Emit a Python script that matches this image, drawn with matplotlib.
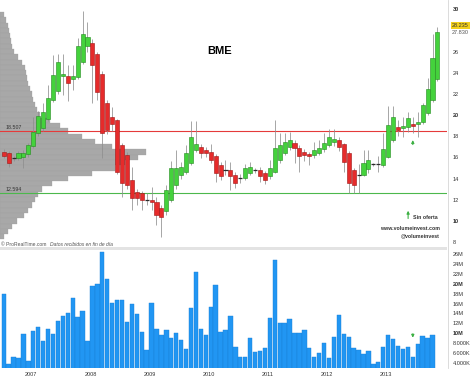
import numpy as np
import matplotlib.pyplot as plt

plt.rcParams['font.family'] = ['Liberation Sans', 'DejaVu Sans']

# -- monthly candles, July 2006 .. November 2013
opens = [16.5, 16.4, 15.95, 15.9, 16.0, 16.3, 17.1, 18.3, 18.8, 19.6,
         21.4, 22.3, 23.7, 23.7, 23.4, 23.6, 25.05, 26.5, 26.8, 25.8,
         23.9, 21.1, 19.8, 19.5, 17.2, 16.2, 13.9, 12.76, 12.6, 11.95,
         11.98, 11.8, 11.2, 10.9, 12.0, 13.4, 14.3, 14.65, 15.5, 16.7,
         17.0, 16.7, 16.54, 16.13, 15.3, 14.8, 14.8, 14.35, 14.0, 14.05,
         14.5, 14.8, 14.8, 14.5, 14.2, 14.65, 15.76, 16.4, 17.0, 17.33,
         16.9, 16.5, 16.3, 16.23, 16.45, 16.8, 17.2, 17.5, 17.6, 17.27,
         16.45, 14.8, 14.3, 14.34, 14.9, 15.35, 15.35, 15.28, 16.07, 17.65,
         18.9, 18.75, 18.9, 19.2, 19.16, 19.3, 20.2, 21.4, 23.4]
highs = [16.8, 16.6, 16.1, 16.6, 16.7, 17.4, 19.8, 20.4, 21.1, 22.8,
         25.7, 25.8, 25.8, 24.7, 24.7, 27.3, 29.8, 28.8, 27.2, 26.0,
         24.2, 21.4, 20.8, 19.6, 17.4, 16.5, 15.1, 13.0, 12.8, 12.6,
         13.2, 12.3, 11.5, 13.4, 15.7, 16.7, 15.6, 17.2, 19.4, 19.4,
         17.3, 17.0, 17.3, 16.3, 15.6, 15.8, 15.6, 14.6, 14.4, 15.4,
         15.6, 15.0, 15.1, 14.7, 15.76, 19.5, 18.3, 18.3, 18.4, 17.65,
         17.2, 16.8, 16.5, 17.5, 17.65, 18.3, 18.7, 18.7, 17.9, 17.4,
         16.6, 15.0, 15.4, 16.7, 16.7, 15.5, 16.1, 18.3, 20.86, 20.86,
         19.5, 19.8, 20.3, 19.8, 20.3, 21.1, 23.5, 27.7, 28.36]
lows = [15.9, 15.1, 15.7, 15.8, 15.0, 16.0, 16.9, 18.0, 18.5, 19.4,
        21.2, 22.0, 21.9, 21.3, 22.4, 23.4, 24.8, 26.0, 21.1, 21.4,
        15.9, 18.2, 18.5, 14.4, 12.3, 13.0, 11.0, 11.5, 11.0, 11.5,
        11.0, 9.6, 8.5, 10.6, 11.8, 13.0, 14.0, 14.4, 15.3, 16.5,
        15.9, 16.0, 15.5, 13.7, 13.9, 14.3, 12.9, 13.1, 13.6, 13.9,
        14.3, 14.5, 13.7, 13.5, 14.0, 14.5, 15.5, 16.2, 16.7, 15.44,
        14.65, 15.7, 15.3, 15.9, 16.2, 16.5, 17.0, 17.1, 16.6, 14.65,
        12.6, 12.6, 12.6, 14.2, 14.5, 15.2, 14.6, 15.1, 15.9, 17.5,
        18.0, 17.9, 18.4, 18.3, 17.95, 19.2, 20.0, 21.2, 23.2]
closes = [16.15, 15.5, 15.85, 16.4, 16.4, 17.2, 18.4, 19.9, 20.3, 21.6,
          23.8, 25.0, 23.9, 23.0, 23.7, 26.5, 27.7, 27.4, 24.7, 22.2,
          18.3, 18.6, 19.2, 14.6, 13.55, 13.4, 12.15, 12.14, 12.0, 12.05,
          11.82, 10.56, 10.4, 12.9, 15.0, 15.0, 15.1, 16.4, 17.96, 17.3,
          16.4, 16.4, 15.76, 14.5, 14.2, 14.85, 14.2, 13.55, 14.05, 14.97,
          15.1, 14.85, 14.2, 13.9, 14.97, 16.86, 17.17, 17.5, 17.65, 16.86,
          16.1, 16.2, 16.15, 16.7, 16.86, 17.4, 17.9, 17.7, 17.0, 15.6,
          13.55, 13.4, 14.34, 15.44, 15.8, 15.4, 15.4, 16.77, 19.06, 19.8,
          18.6, 18.97, 19.7, 19.0, 19.38, 21.0, 22.5, 25.4, 27.83]

# -- monthly volume in millions (panel stops at October 2013)
volume = [17.9, 3.7, 5.1, 4.9, 9.8, 4.4, 10.4, 11.2, 8.5, 10.8,
          9.8, 12.5, 13.4, 14.1, 17.2, 13.3, 14.5, 8.3, 19.6, 19.9,
          26.5, 20.9, 16.1, 16.7, 16.8, 12.2, 15.9, 13.9, 10.2, 6.5,
          16.1, 10.8, 9.6, 10.6, 9.1, 10.1, 8.7, 6.7, 15.0, 22.5,
          10.8, 9.6, 15.4, 19.8, 10.3, 10.6, 13.5, 7.1, 5.1, 5.1,
          9.1, 6.1, 6.3, 7.0, 13.1, 24.8, 12.0, 12.0, 12.9, 10.0,
          10.0, 10.7, 7.0, 5.2, 6.0, 7.9, 4.9, 9.2, 13.7, 9.8,
          9.2, 6.9, 6.6, 5.8, 6.4, 3.7, 4.1, 7.2, 9.7, 8.9,
          7.3, 6.8, 7.1, 5.2, 7.7, 9.4, 9.1, 9.7]

# -- volume by price profile on the left
profile_price = np.arange(29.5, 8.4, -0.5)
profile_vol = [4, 6, 8, 9, 10, 11, 12, 14, 18, 22, 25, 26, 27, 28, 30, 32, 33, 35,
               37, 40, 50, 60, 68, 82, 95, 112, 146, 138, 125, 115, 92, 68, 52, 42,
               38, 35, 32, 28, 24, 17, 12, 8, 4]

years = ['2007', '2008', '2009', '2010', '2011', '2012', '2013']
year_idx = [6, 18, 30, 42, 54, 66, 78]

resistance = 18.507
support = 12.594
last_price = 28.235
sin_oferta = 83

price_ticks = [8, 10, 12, 14, 16, 18, 20, 22, 24, 26, 30]
vol_ticks = [4, 6, 8, 10, 12, 14, 16, 18, 20, 22, 24, 26]
vol_labels = ['4.000K', '6.000K', '8.000K', '10M', '12M', '14M', '16M', '18M',
              '20M', '22M', '24M', '26M']

W, H = 474, 378


def rect(x0, y0, x1, y1):
    return [x0 / W, 1 - y1 / H, (x1 - x0) / W, (y1 - y0) / H]


fig = plt.figure(figsize=(W / 100, H / 100), dpi=100)
xlim = (-0.75, 89.94)
ylim = (7.53, 30.88)

# -- profile first, behind the candles
axp = fig.add_axes(rect(0, 0, 447, 247), label='profile')
axp.barh(profile_price, profile_vol, height=0.5, color='#a8a8a8', edgecolor='#a0a0a0', lw=0.2)
axp.set_xlim(0, 447)
axp.set_ylim(*ylim)
axp.axis('off')

ax = fig.add_axes(rect(0, 0, 447, 247), label='price')
ax.patch.set_visible(False)
ax.set_xlim(*xlim)
ax.set_ylim(*ylim)

o = np.array(opens)
c = np.array(closes)
idx = np.arange(len(o))
up = c >= o
lo = np.minimum(o, c)
hgt = np.abs(c - o)
small = hgt < 0.12

ax.axhline(resistance, color='#e53a3a', lw=0.8, zorder=1.5)
ax.axhline(support, color='#4cb84c', lw=0.8, zorder=1.5)

ax.vlines(idx, lows, highs, color='#8e8e8e', lw=0.55, zorder=2)
m = ~small & up
ax.bar(idx[m], hgt[m], bottom=lo[m], width=0.82, color='#44d23c', edgecolor='#238a1e', lw=0.4, zorder=3)
m = ~small & ~up
ax.bar(idx[m], hgt[m], bottom=lo[m], width=0.82, color='#e62b2b', edgecolor='#9e1414', lw=0.4, zorder=3)
ax.hlines((o[small] + c[small]) / 2, idx[small] - 0.41, idx[small] + 0.41, color='#2a2a2a', lw=0.9, zorder=3)

ax.yaxis.tick_right()
ax.set_yticks(price_ticks)
ax.set_yticklabels([str(t) for t in price_ticks])
ax.tick_params(axis='y', length=0, pad=4, labelsize=4, labelcolor='#333333')
for t, lab in zip(price_ticks, ax.get_yticklabels()):
    if t % 10 == 0:
        lab.set_fontweight('bold')
ax.set_xticks([])
for s in ax.spines.values():
    s.set_visible(False)

# -- level labels and texts
ax.text(0.3, resistance + 0.35, f'{resistance:.3f}', fontsize=3.8, color='#333333', va='center')
ax.text(0.3, support + 0.35, f'{support:.3f}', fontsize=3.8, color='#333333', va='center')
ax.text(0.491, 0.794, 'BME', transform=ax.transAxes, fontsize=8, fontweight='bold', ha='center', va='center')
ax.text(1.011, last_price + 0.23, f'{last_price:.3f}', transform=ax.get_yaxis_transform(), fontsize=4,
        va='center', color='#333333', bbox=dict(boxstyle='square,pad=0.15', fc='#f3d01c', ec='none'))
ax.text(1.011, closes[-1], f'{closes[-1]:.3f}', transform=ax.get_yaxis_transform(), fontsize=4,
        va='center', color='#555555')

ax.annotate('', xy=(sin_oferta, 17.9), xytext=(sin_oferta, 16.95),
            arrowprops=dict(arrowstyle='-|>', color='#3cb043', lw=0.8, mutation_scale=4))
ax.annotate('', xy=(0.913, 0.158), xytext=(0.913, 0.104), xycoords='axes fraction',
            arrowprops=dict(arrowstyle='-|>', color='#3cb043', lw=0.8, mutation_scale=4))
ax.text(0.924, 0.121, 'Sin oferta', transform=ax.transAxes, fontsize=3.8, fontweight='bold',
        color='#333333', va='center')
ax.text(0.984, 0.074, 'www.volumeinvest.com', transform=ax.transAxes, fontsize=3.8, fontweight='bold',
        color='#333333', va='center', ha='right')
ax.text(0.984, 0.045, '@volumeinvest', transform=ax.transAxes, fontsize=3.8, fontweight='bold',
        color='#333333', va='center', ha='right')

fig.text(1 / W, 1 - 245 / H, '© ProRealTime.com', fontsize=3.6, color='#555555', va='center')
fig.text(50 / W, 1 - 245 / H, 'Datos recibidos en fin de día', fontsize=3.6, color='#555555',
         va='center', style='italic')

# -- volume panel
axv = fig.add_axes(rect(0, 250, 447, 368), label='volume')
axv.bar(np.arange(len(volume)), volume, width=0.88, color='#2196f3', edgecolor='#1a7fd6', lw=0.3)
axv.annotate('', xy=(sin_oferta, 8.5), xytext=(sin_oferta, 10.4),
             arrowprops=dict(arrowstyle='-|>', color='#3cb043', lw=0.8, mutation_scale=4))
axv.set_xlim(*xlim)
axv.set_ylim(2.92, 26.87)
axv.yaxis.tick_right()
axv.set_yticks(vol_ticks)
axv.set_yticklabels(vol_labels)
axv.tick_params(axis='y', length=0, pad=4, labelsize=4, labelcolor='#333333')
for t, lab in zip(vol_ticks, axv.get_yticklabels()):
    if t % 10 == 0:
        lab.set_fontweight('bold')
axv.set_xticks(np.array(year_idx) - 0.4)
axv.set_xticklabels(years)
axv.tick_params(axis='x', length=0, pad=3, labelsize=4, labelcolor='#333333')
for s in axv.spines.values():
    s.set_visible(False)

# -- separators
fig.add_artist(plt.Rectangle((0, 1 - 250 / H), 447 / W, 3 / H, transform=fig.transFigure,
                             color='#e3e3e3', lw=0))
fig.add_artist(plt.Line2D([447.5 / W, 447.5 / W], [1 - 368 / H, 1], transform=fig.transFigure,
                          color='#d6d6d6', lw=0.6))

fig.savefig('out.png', dpi=100)
